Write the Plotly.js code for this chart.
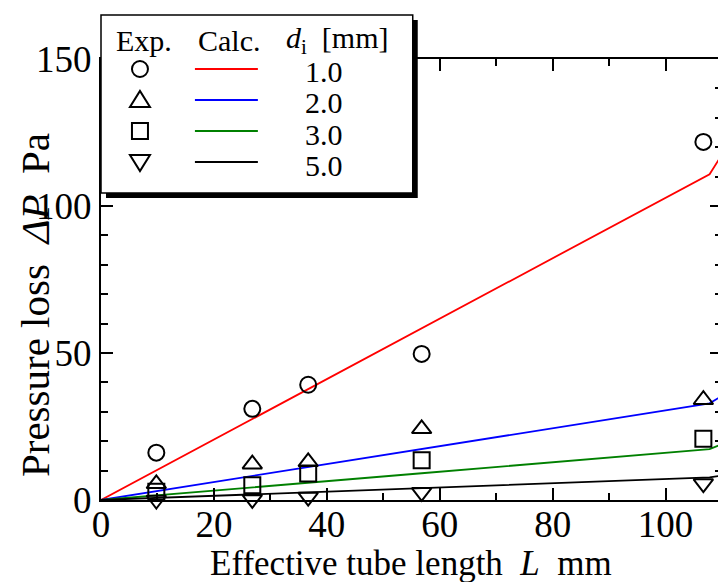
<!DOCTYPE html>
<html>
<head>
<meta charset="utf-8">
<script src="https://cdn.plot.ly/plotly-3.0.1.min.js"></script>
<style>
html,body{margin:0;padding:0;overflow:hidden;background:#fff;}
#chart{width:730px;height:582px;}
</style>
</head>
<body>
<div id="chart"></div>
<script>
// Experimental points
var expL = [9.8, 26.8, 36.7, 56.8, 106.7];
var exp10 = [16.1, 31.0, 39.2, 49.7, 121.8];
var exp20 = [5.5, 12.2, 13.0, 24.2, 34.1];
var exp30 = [2.8, 5.0, 9.0, 13.5, 20.8];
var exp50 = [0.0, 0.2, 1.0, 2.6, 5.6];
// Calculated lines
var calcL = [0, 9.8, 26.8, 36.7, 56.8, 107.8, 110];
var calc10 = [0, 10.1, 27.6, 37.8, 58.5, 110.8, 117.5];
var calc20 = [0, 3.0, 8.1, 11.2, 17.3, 32.9, 35.4];
var calc30 = [0, 1.6, 4.3, 5.9, 9.1, 17.3, 19.0];
var calc50 = [0, 0.7, 1.9, 2.6, 4.0, 7.7, 8.3];
var diamLabels = ['1.0', '2.0', '3.0', '5.0'];
var xTicks = [0, 20, 40, 60, 80, 100];
var yTicks = [0, 50, 100, 150];

var FONT = 'Liberation Serif, Times New Roman, serif';
var lineColors = ['#ff0000', '#0000ff', '#008000', '#000000'];
var symbols = ['circle-open', 'triangle-up-open', 'square-open', 'triangle-down-open'];
var symSizes = [16, 17, 16, 17];
var expSeries = [exp10, exp20, exp30, exp50];
var calcSeries = [calc10, calc20, calc30, calc50];

// plot geometry (pixels)
var ML = 101, MT = 59, MR = 7.5, MB = 82, WIDTH = 730, HEIGHT = 582;
var PW = WIDTH - ML - MR, PH = HEIGHT - MT - MB;
function px(x) { return (x - ML) / PW; }
function py(y) { return (MT + PH - y) / PH; }

var traces = [];
for (var i = 0; i < 4; i++) {
  traces.push({
    x: calcL, y: calcSeries[i], mode: 'lines', type: 'scatter',
    line: {color: lineColors[i], width: 1.8}, showlegend: false, hoverinfo: 'skip'
  });
}
for (var j = 0; j < 4; j++) {
  traces.push({
    x: expL, y: expSeries[j], mode: 'markers', type: 'scatter', cliponaxis: false,
    marker: {symbol: symbols[j], size: symSizes[j], color: '#000', line: {color: '#000', width: 2}},
    showlegend: false, hoverinfo: 'skip'
  });
}

// legend box (custom table style)
var shapes = [];
var annotations = [];
shapes.push({type: 'rect', xref: 'paper', yref: 'paper', x0: px(106), x1: px(418), y0: py(20), y1: py(198),
  fillcolor: '#000', line: {width: 0}, layer: 'above'});
shapes.push({type: 'rect', xref: 'paper', yref: 'paper', x0: px(101), x1: px(413), y0: py(15), y1: py(193),
  fillcolor: '#fff', line: {color: '#000', width: 1.5}, layer: 'above'});

var rowY = [69, 100, 131, 162];
var symX = 140;
var symPaths = [null, 'M-10,-7 L10,-7 L0,9 Z', null, 'M-10,7 L10,7 L0,-9 Z'];
for (var k = 0; k < 4; k++) {
  var base = {xref: 'paper', yref: 'paper', xsizemode: 'pixel', ysizemode: 'pixel',
    xanchor: px(symX), yanchor: py(rowY[k]), line: {color: '#000', width: 2}, layer: 'above'};
  var s = Object.assign({}, base);
  if (k === 0) { s.type = 'circle'; s.x0 = -8; s.x1 = 8; s.y0 = -8; s.y1 = 8; }
  else if (k === 2) { s.type = 'rect'; s.x0 = -8; s.x1 = 8; s.y0 = -8; s.y1 = 8; }
  else { s.type = 'path'; s.path = symPaths[k]; }
  shapes.push(s);
  shapes.push({type: 'line', xref: 'paper', yref: 'paper', x0: px(195), x1: px(258), y0: py(rowY[k]), y1: py(rowY[k]),
    line: {color: lineColors[k], width: 1.8}, layer: 'above'});
  annotations.push({xref: 'paper', yref: 'paper', x: px(324), y: py(rowY[k] + 3), text: diamLabels[k],
    showarrow: false, xanchor: 'center', yanchor: 'middle', font: {family: FONT, size: 30, color: '#000'}});
}
var headY = py(40);
annotations.push({xref: 'paper', yref: 'paper', x: px(144.5), y: headY, text: 'Exp.', showarrow: false,
  xanchor: 'center', yanchor: 'middle', font: {family: FONT, size: 30, color: '#000'}});
annotations.push({xref: 'paper', yref: 'paper', x: px(229.5), y: headY, text: 'Calc.', showarrow: false,
  xanchor: 'center', yanchor: 'middle', font: {family: FONT, size: 30, color: '#000'}});
annotations.push({xref: 'paper', yref: 'paper', x: px(338), y: headY, text: '<i>d</i><sub>i</sub>\u00a0\u00a0[mm]', showarrow: false,
  xanchor: 'center', yanchor: 'middle', font: {family: FONT, size: 30, color: '#000'}});

// axis titles
annotations.push({xref: 'paper', yref: 'paper', x: px(411.5), y: py(585), yanchor: 'bottom', xanchor: 'center',
  text: 'Effective tube length\u00a0\u00a0<i>L</i>\u00a0\u00a0mm', showarrow: false,
  font: {family: FONT, size: 35, color: '#000'}});
annotations.push({xref: 'paper', yref: 'paper', x: px(35), y: py(305), yanchor: 'middle', xanchor: 'center',
  textangle: -90, text: 'Pressure loss\u00a0\u00a0<i>\u0394P</i>\u00a0\u00a0Pa', showarrow: false,
  font: {family: FONT, size: 41, color: '#000'}});

var axisCommon = {
  showline: true, linewidth: 2, linecolor: '#000', mirror: 'ticks',
  ticks: 'inside', ticklen: 12, tickwidth: 2, tickcolor: '#000',
  showgrid: false, zeroline: false,
  tickfont: {family: FONT, size: 37, color: '#000'},
  minor: {ticks: 'inside', ticklen: 7, tickwidth: 2, tickcolor: '#000', dtick: 10, showgrid: false}
};
var layout = {
  width: WIDTH, height: HEIGHT,
  margin: {l: ML, r: MR, t: MT, b: MB},
  paper_bgcolor: '#fff', plot_bgcolor: '#fff',
  showlegend: false,
  xaxis: Object.assign({}, axisCommon, {range: [0, 110], tickvals: xTicks, ticktext: xTicks.map(String), ticklabelstandoff: -9}),
  yaxis: Object.assign({}, axisCommon, {range: [0, 150], tickvals: yTicks, ticktext: yTicks.map(String)}),
  shapes: shapes,
  annotations: annotations
};
Plotly.newPlot('chart', traces, layout, {staticPlot: true, displayModeBar: false});
</script>
</body>
</html>
